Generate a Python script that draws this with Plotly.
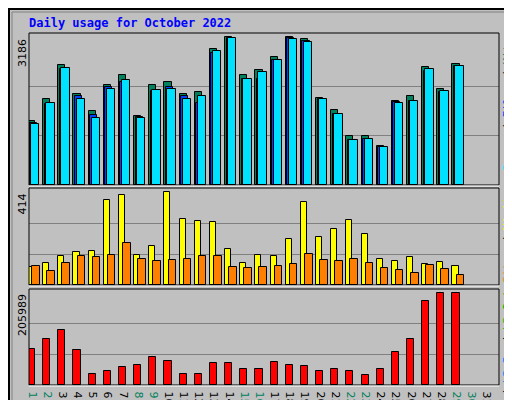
import plotly.graph_objects as go

days = list(range(1, 32))
hits = [1391,1852,2580,1975,1607,2148,2364,1499,2148,2234,1975,1997,2926,3186,2364,2472,2753,3186,3143,1888,1629,1067,1052,851,1824,1932,2537,2083,2602,None,None]
files = [1348,1744,2494,1932,1521,2105,2220,1478,2040,2105,1932,1780,2840,3164,2278,2278,2689,3164,3099,1867,1542,980,1002,829,1802,1824,2451,2018,2559,None,None]
pages = [1326,1780,2516,1852,1456,2083,2256,1456,2061,2083,1852,1932,2883,3164,2278,2429,2689,3143,3078,1867,1542,980,1002,829,1780,1824,2494,2040,2559,None,None]
visits = [81,99,130,148,153,378,400,135,175,414,297,288,283,162,99,135,130,207,373,216,252,292,229,117,108,126,94,103,85,None,None]
sites = [85,63,99,130,126,135,189,117,108,112,117,130,130,81,76,81,85,94,139,112,108,117,99,76,67,54,90,72,45,None,None]
kbytes = [79700,102200,122500,77400,25600,32300,39100,43600,61600,52600,25600,25600,48100,48100,36800,36800,50400,43600,41300,32300,34600,32300,23300,34600,72900,102200,188000,205989,205989,None,None]
weekend = [1,2,8,9,15,16,22,23,29,30]
max_hits, max_visits, max_kb = 3186, 414, 205989

W, H = 512, 400
L, R, T, B = 21, 21, 25, 23
pw, ph = W - L - R, H - T - B
def py(y):
    return (H - B - y) / ph
def px(x):
    return (x - L) / pw

fig = go.Figure()
line = dict(color="black", width=1)
def bar(y, off, wd, color, ya):
    fig.add_trace(go.Bar(x=days, y=y, offset=off, width=wd, marker=dict(color=color, line=line),
                         xaxis="x", yaxis=ya, showlegend=False, hoverinfo="skip"))
bar(hits, -0.4, 0.47, "#00805C", "y")
bar(files, -0.3, 0.47, "#0040FF", "y")
bar(pages, -0.2, 0.55, "#00E0FF", "y")
bar(visits, -0.4, 0.4, "#FFFF00", "y2")
bar(sites, -0.13, 0.5, "#FF8000", "y2")
bar(kbytes, -0.4, 0.47, "#FF0000", "y3")

def yax(m, dom, top):
    return dict(domain=dom, range=[0, m * top], tickvals=[m / 3, 2 * m / 3], showticklabels=False,
                showgrid=True, gridcolor="#808080", gridwidth=1, zeroline=False, fixedrange=True,
                anchor="x", automargin=False)
ticktext = [f"<span style='color:{'#00805C' if d in weekend else 'black'}'>{d}</span>" for d in days]
fig.update_layout(
    width=W, height=H, margin=dict(l=L, r=R, t=T, b=B, autoexpand=False),
    paper_bgcolor="#C0C0C0", plot_bgcolor="#C0C0C0",
    barmode="overlay", bargap=0,
    font=dict(family="DejaVu Sans Mono", size=11, color="black"),
    xaxis=dict(range=[0.667, 31.67], tickvals=days, ticktext=ticktext, showgrid=False, zeroline=False,
               ticks="", tickfont=dict(family="DejaVu Sans", size=11), fixedrange=True,
               anchor="y3", automargin=False),
    yaxis=yax(max_hits, [py(177), 1], 151.7 / 147.3),
    yaxis2=yax(max_visits, [py(277), py(180)], 96.3 / 92),
    yaxis3=yax(max_kb, [0, py(281)], 95 / 91.4),
)
shapes = []
for y0, y1 in [(25, 177), (180, 277), (281, 377)]:
    shapes.append(dict(type="rect", xref="paper", yref="paper", x0=0, x1=1, y0=py(y1), y1=py(y0),
                       line=dict(color="black", width=1)))
    shapes.append(dict(type="line", xref="paper", yref="paper", x0=0, x1=1, y0=py(y1 + 1), y1=py(y1 + 1),
                       line=dict(color="white", width=1)))
shapes.append(dict(type="rect", xref="paper", yref="paper", x0=px(1), x1=px(510), y0=py(398), y1=py(1),
                   line=dict(color="black", width=2)))
shapes.append(dict(type="rect", xref="paper", yref="paper", x0=px(4), x1=px(507), y0=py(395), y1=py(4),
                   line=dict(color="#808080", width=1)))
fig.update_layout(shapes=shapes)

def A(text, x, y, xa, ya, font, angle=0):
    return dict(text=text, xref="paper", yref="paper", x=x, y=y, xanchor=xa, yanchor=ya,
                textangle=angle, showarrow=False, font=font)
ann = [A("<b>Daily usage for October 2022</b>", px(19), py(15), "left", "middle",
         dict(color="#0000FF", size=12, family="DejaVu Sans Mono"))]
for v, ytop in [(max_hits, 29), (max_visits, 184), (max_kb, 284)]:
    ann.append(A(str(v), px(14), py(ytop), "center", "top", dict(size=11, family="DejaVu Sans"), -90))
rf = dict(size=11, family="DejaVu Sans Mono")
for t, ytop in [
    ("<span style='color:#00E0FF'>Pages</span> / <span style='color:#0040FF'>Files</span> / <span style='color:#00805C'>Hits</span>", 28),
    ("<span style='color:#00C000'>Out</span> <span style='color:#FF8000'>Sites</span> / <span style='color:#FFFF00'>Visits</span>", 181),
    ("<span style='color:#FF0000'>kB F</span> / <span style='color:#0080FF'>kB In</span> / <span style='color:#00C000'>kB Out</span>", 281),
]:
    ann.append(A(t, px(499), py(ytop), "center", "top", rf, -90))
fig.update_layout(annotations=ann)
fig.write_html("out.html")
